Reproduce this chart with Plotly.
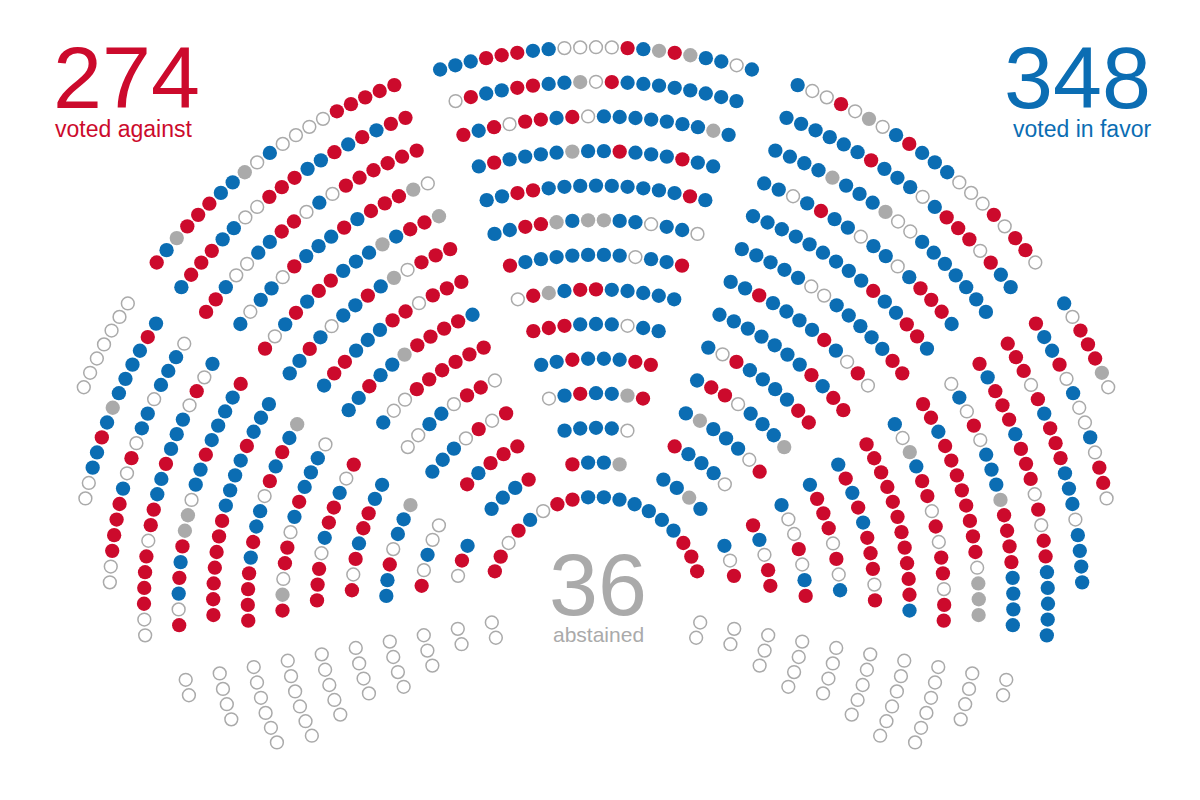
import numpy as np
import plotly.graph_objects as go

# ---------------- data (R = against, B = in favor, G = abstained, O = absent) ----------------
# central block, rows 1..13 (inner -> outer), each listed left -> right
center_rows = [
    "RBBG",
    "BBBBO",
    "OBRBBGR",
    "BBRBBBRR",
    "RRRBBBOBB",
    "ORGBRRBBBBB",
    "RBBBBBBBOBBR",
    "BBRRGBGGBBOBBO",
    "BBRRBBBBBBBBBRB",
    "BRBBBBGBBRBBBRBB",
    "RBRORRBROBBBBBBBGB",
    "ORBBRRBBGORBBBBBBBB",
    "BBBRRRBBOOOORBGRGBBOB",
]
# innermost row, spanning the whole front, left -> right
front_row = "RRORBORRBBBBBBBRRR"

# upper-left block, rows 1..13, listed from the central aisle outwards
left_upper = [
    "RBBB",
    "RRRBR",
    "ROROBBB",
    "ORROBBOO",
    "RRRRRROOB",
    "BRRRRGBBRBB",
    "RRRORRBBBRRB",
    "RRROGBRBBOBRBB",
    "GRRBGBBBRRBRBOR",
    "OGRRRBRBBBROBBOB",
    "RRRRRROBORRBBOOBRR",
    "RRBRBRBBRRROOBBRRRB",
    "RRRRROOOOBOGBBRRRGBR",
]
# left wing block, rows 1..13, listed from the top downwards
left_wing = [
    "BRO",
    "OOBOR",
    "GBBORBB",
    "BBRRBROR",
    "ROBRRBORRR",
    "OBBBRBORROGR",
    "GBRBROBBRBRRRR",
    "BBBRBBBBRRRRRRR",
    "RBBBBRBBOGGRBRBOR",
    "BOROBBBRBBRRORRRROO",
    "OBBBOBBOROBRRRROO",
    "BRBBBBGBRBBOO",
    "OOOOOOO",
]
# upper-right block, rows 1..13, listed from the central aisle outwards
right_upper = [
    "BBGB",
    "RBBBO",
    "BGBBBOR",
    "BRROBBBG",
    "BORBBBBRR",
    "BBBBBBBRBRR",
    "BBRBBBBRBORO",
    "BBBBBOOBBBBBRR",
    "BBBBBBBBBRBBRRB",
    "BBOBRBBOBBOBRRRB",
    "BBBBGBBBGOOBBBBBBB",
    "BBBBBBRBBBOBRRRORBB",
    "BOOROGOBRBBBOOORORRO",
]
# right wing block, rows 1..13, listed from the top downwards
right_wing = [
    "BOR",
    "RBORR",
    "BOOROBR",
    "BRRROROB",
    "BRBRBRRROR",
    "RRRRRRRRRRRB",
    "BOGBRRORORRORR",
    "RRBRRRRRRRROGGG",
    "OBOROBBBGRRRRBBBB",
    "RBRRRBRRRORORRBBBBB",
    "RRRORBRRRBBBOBBBB",
    "RBBROBOOBORRO",
    "BORRRGO",
]
# empty guest seats at the front corners, rows 0..9
guest_counts = [2, 2, 3, 4, 4, 5, 6, 6, 4, 2]

totals = {"against": 274, "favor": 348, "abstained": 36}

# ---------------- layout of the hemicycle ----------------
CX, CY = 596.0, 603.0
R0, DR = 106.0, 34.6
SPACING = 15.8


def radius(k):
    return R0 + DR * k


def step_deg(k):
    return np.degrees(SPACING / radius(k))


def place(k, n, start_deg, side):
    r = radius(k)
    th = np.radians(start_deg + step_deg(k) * np.arange(n))
    return CX + side * r * np.sin(th), CY - r * np.cos(th)


xs, ys, cs = [], [], []


def add(x, y, codes):
    xs.extend(x)
    ys.extend(y)
    cs.extend(list(codes))


# front row and central block: centred
x, y = place(0, len(front_row), -(len(front_row) - 1) * step_deg(0) / 2, 1)
add(x, y, front_row)
for k, row in enumerate(center_rows, start=1):
    n = len(row)
    x, y = place(k, n, -(n - 1) * step_deg(k) / 2, 1)
    add(x, y, row)

# side blocks: rows start next to an aisle and run outwards
for side, upper, wing in ((-1, left_upper, left_wing), (1, right_upper, right_wing)):
    for k, row in enumerate(upper, start=1):
        start = 18.8 + np.degrees(np.arcsin(24 / radius(k)))
        x, y = place(k, len(row), start, side)
        add(x, y, row)
    for k, row in enumerate(wing, start=1):
        start = 54.5 + np.degrees(np.arcsin(28 / radius(k)))
        x, y = place(k, len(row), start, side)
        add(x, y, row)
    for k, n in enumerate(guest_counts):
        x, y = place(k, n, 100.6, side)
        add(x, y, "O" * n)

xs, ys, cs = np.array(xs), np.array(ys), np.array(cs)

RED, BLUE, GREY = "#cc0a2c", "#0b6db3", "#aaaaaa"

fig = go.Figure()
style = {
    "R": dict(color=RED, size=14.3, line=dict(width=0)),
    "B": dict(color=BLUE, size=14.3, line=dict(width=0)),
    "G": dict(color=GREY, size=14.3, line=dict(width=0)),
    "O": dict(color="white", size=12.8, line=dict(width=1.5, color=GREY)),
}
for code in ["O", "G", "R", "B"]:
    m = cs == code
    fig.add_trace(go.Scatter(x=xs[m], y=ys[m], mode="markers", marker=style[code],
                             hoverinfo="skip", showlegend=False))

FONT = "Liberation Sans, Arial, Helvetica, sans-serif"
big = 88
ann = [
    dict(text=str(totals["against"]), x=52, y=108 - 0.35 * big, xanchor="left", yanchor="middle",
         font=dict(size=big, color=RED, family=FONT)),
    dict(text="voted against", x=54, y=137 - 0.35 * 23, xanchor="left", yanchor="middle",
         font=dict(size=23, color=RED, family=FONT)),
    dict(text=str(totals["favor"]), x=1152, y=108 - 0.35 * big, xanchor="right", yanchor="middle",
         font=dict(size=big, color=BLUE, family=FONT)),
    dict(text="voted in favor", x=1152, y=137 - 0.35 * 23, xanchor="right", yanchor="middle",
         font=dict(size=23, color=BLUE, family=FONT)),
    dict(text=str(totals["abstained"]), x=598, y=615 - 0.35 * big, xanchor="center", yanchor="middle",
         font=dict(size=big, color=GREY, family=FONT)),
    dict(text="abstained", x=598, y=642 - 0.35 * 21, xanchor="center", yanchor="middle",
         font=dict(size=21, color=GREY, family=FONT)),
]
for a in ann:
    a.update(xref="x", yref="y", showarrow=False, borderpad=0)

fig.update_layout(
    width=1200, height=800,
    margin=dict(l=0, r=0, t=0, b=0),
    paper_bgcolor="white", plot_bgcolor="white",
    xaxis=dict(range=[0, 1200], visible=False, fixedrange=True),
    yaxis=dict(range=[800, 0], visible=False, fixedrange=True),
    annotations=ann,
    hovermode=False,
)
fig.write_html("out.html", config={"displayModeBar": False},
               post_script="document.body.style.margin='0px';document.body.style.padding='0px';")
